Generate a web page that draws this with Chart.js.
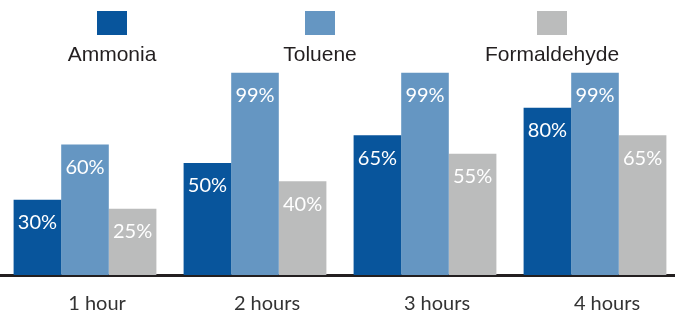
<!DOCTYPE html>
<html>
<head>
<meta charset="utf-8">
<script src="https://cdn.jsdelivr.net/npm/chart.js@4"></script>
<style>
  html, body { margin: 0; padding: 0; background: #fff; overflow: hidden; }
  #wrap { position: relative; width: 680px; height: 315px; }
</style>
</head>
<body>
<div id="wrap"><canvas id="chart" width="680" height="315"></canvas></div>
<script>
const categories = ['1 hour', '2 hours', '3 hours', '4 hours'];
const seriesNames = ['Ammonia', 'Toluene', 'Formaldehyde'];
const ammonia = [30, 50, 65, 80];
const toluene = [60, 99, 99, 99];
const formaldehyde = [25, 40, 55, 65];
const colors = ['#08559c', '#6596c2', '#bbbcbc'];

// legend: square above the name, centred on these x positions
const legendX = [112, 320, 552];
const yMin = -11;

const legendPlugin = {
    id: 'topLegend',
    afterDraw(chart) {
        const ctx = chart.ctx;
        ctx.save();
        chart.data.datasets.forEach(function (ds, i) {
            const cx = legendX[i];
            ctx.fillStyle = ds.backgroundColor;
            ctx.fillRect(cx - 15, 11, 30, 24);
            ctx.fillStyle = '#231f20';
            ctx.font = '21px "Liberation Sans", Arial, sans-serif';
            ctx.textAlign = 'center';
            ctx.textBaseline = 'middle';
            ctx.fillText(ds.label, cx, 55);
        });
        ctx.restore();
    }
};

const valueLabels = {
    id: 'valueLabels',
    afterDatasetsDraw(chart) {
        const ctx = chart.ctx;
        ctx.save();
        ctx.fillStyle = '#ffffff';
        ctx.font = '20px Lato, sans-serif';
        ctx.textAlign = 'center';
        ctx.textBaseline = 'middle';
        chart.data.datasets.forEach(function (ds, i) {
            chart.getDatasetMeta(i).data.forEach(function (bar, j) {
                ctx.fillText(ds.data[j] + '%', bar.x, bar.y + 23);
            });
        });
        ctx.restore();
    }
};

new Chart(document.getElementById('chart').getContext('2d'), {
    type: 'bar',
    data: {
        labels: categories,
        datasets: [
            { label: seriesNames[0], data: ammonia, backgroundColor: colors[0], base: yMin },
            { label: seriesNames[1], data: toluene, backgroundColor: colors[1], base: yMin },
            { label: seriesNames[2], data: formaldehyde, backgroundColor: colors[2], base: yMin }
        ]
    },
    options: {
        responsive: false,
        animation: false,
        layout: { padding: { top: 71, left: 0, right: 0, bottom: 0 } },
        datasets: {
            bar: { categoryPercentage: 0.84, barPercentage: 1.0, borderWidth: 0 }
        },
        plugins: {
            legend: { display: false },
            tooltip: { enabled: false }
        },
        scales: {
            x: {
                grid: { display: false, drawTicks: false },
                border: { display: true, color: '#231f20', width: 3 },
                afterFit(scale) { scale.height = 40; },
                ticks: {
                    color: '#333333',
                    padding: 17,
                    labelOffset: 12,
                    maxRotation: 0,
                    font: { family: 'Lato', size: 20 }
                }
            },
            y: {
                display: false,
                min: yMin,
                max: 100
            }
        }
    },
    plugins: [legendPlugin, valueLabels]
});
</script>
</body>
</html>
